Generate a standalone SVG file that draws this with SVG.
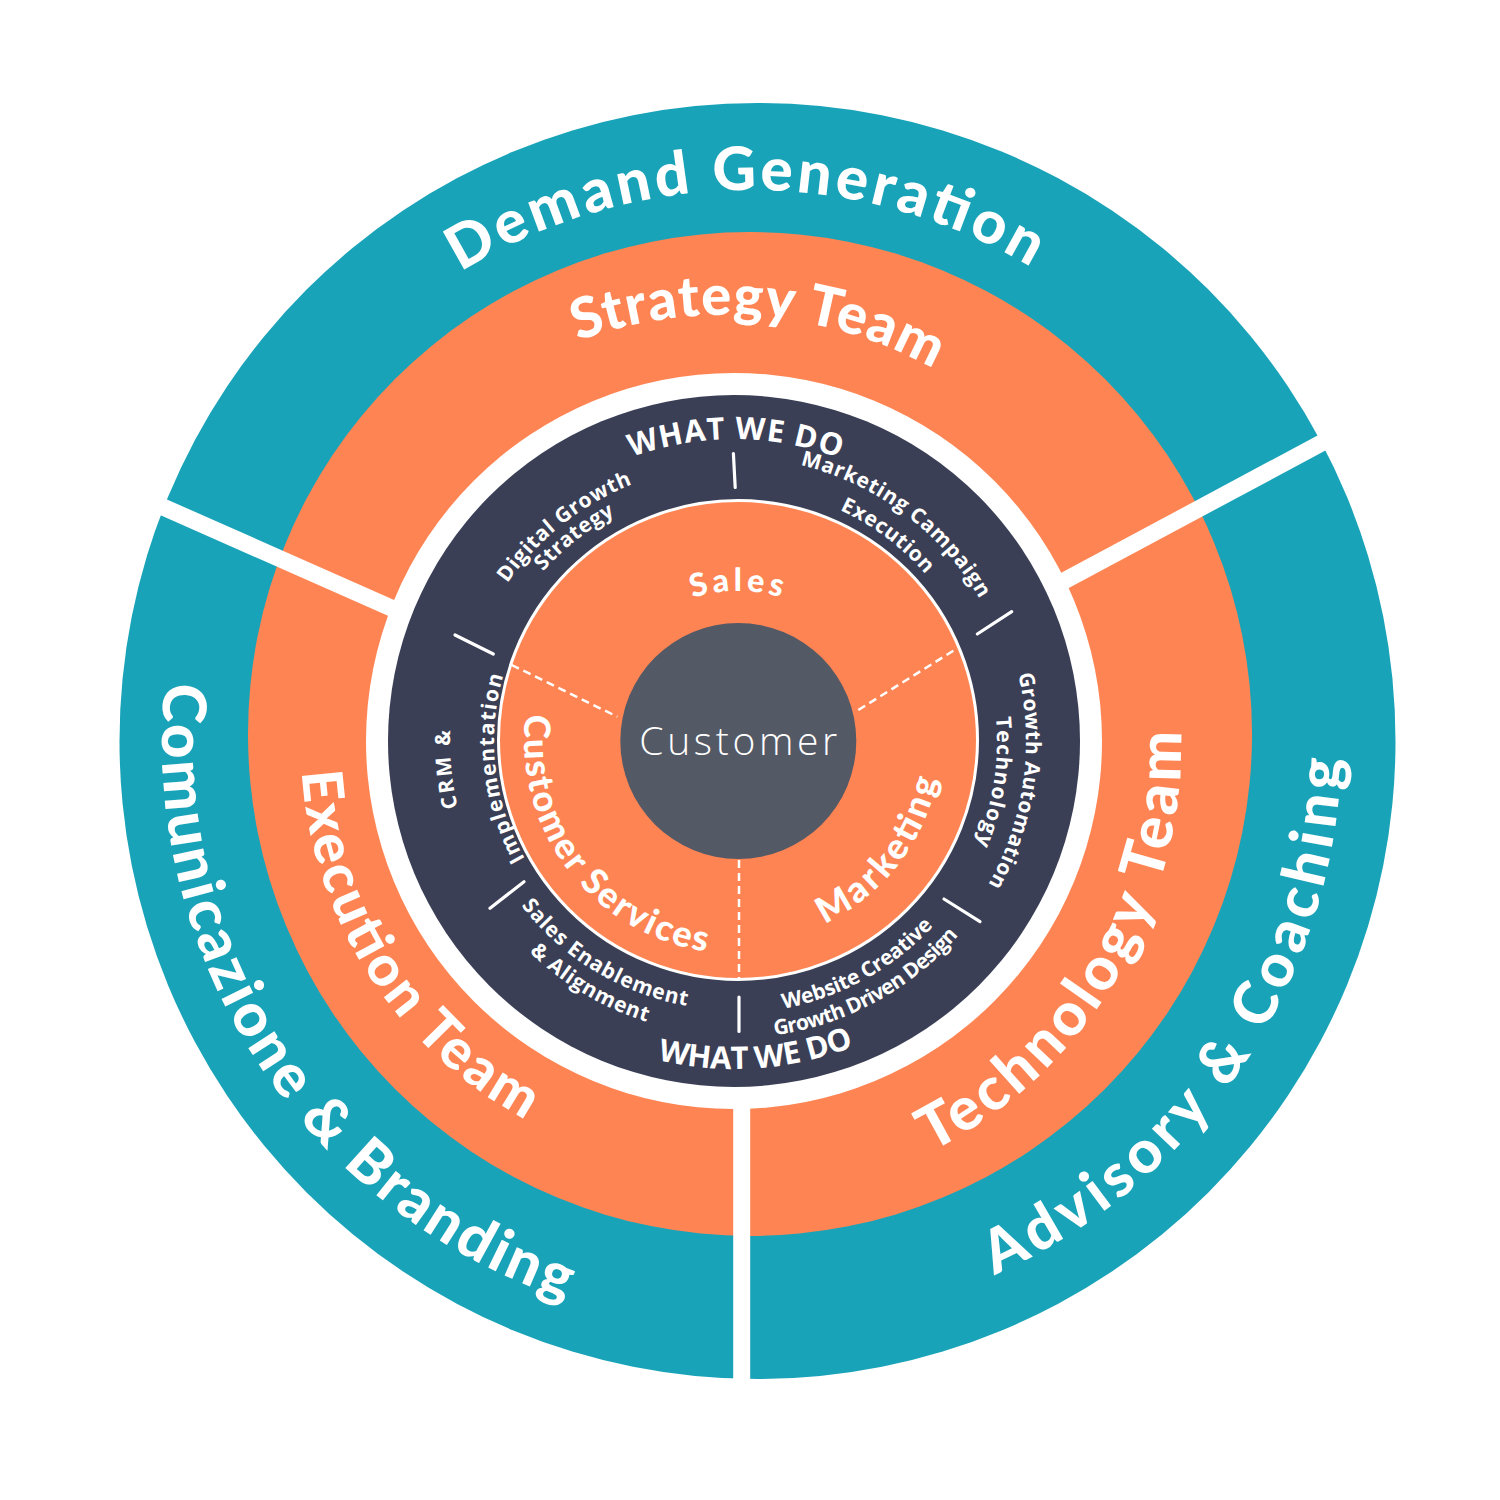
<svg xmlns="http://www.w3.org/2000/svg" width="1500" height="1500" viewBox="0 0 1500 1500">
<style>
.t{fill:#fff;font-family:Lato,"Open Sans","Noto Sans",sans-serif;font-weight:900}
.xl{font-size:60px}
.lg{font-size:56px}
.tech{font-size:60px}
.md{font-size:36px}
.sm{font-size:21px;font-weight:700;font-family:"Open Sans",Lato,sans-serif}
.wwd{font-size:31px;font-weight:700;font-family:"Open Sans",Lato,sans-serif}
.cust{font-size:39px;font-weight:300;font-family:"Open Sans",Lato,sans-serif;fill:#fff}
.gap{stroke:#fff;stroke-width:17;fill:none}
.tick{stroke:#fff;stroke-width:3.2;stroke-linecap:round;fill:none}
.dash{stroke:#fff;stroke-width:2.5;stroke-dasharray:8 5;fill:none}
</style>
<defs>
<path id="pDemand" d="M 208.23 841.41 A 551 551 0 1 1 1293.45 831.94"/>
<path id="pStrategyTeam" d="M 296.98 786.22 A 430 430 0 1 1 1141.30 852.66"/>
<path id="pExecTeam" d="M 560.69 354.13 A 424 424 0 1 0 1013.08 1056.10"/>
<path id="pTechTeam" d="M 427.64 1090.71 A 456 456 0 1 0 886.18 318.44"/>
<path id="pComunic" d="M 520.25 199.75 A 588 588 0 1 0 1151.02 1171.03"/>
<path id="pAdvisory" d="M 352.55 1161.80 A 584 584 0 1 0 994.06 207.08"/>
<path id="pWwdTop" d="M 436.21 791.91 A 302 302 0 1 1 1031.10 795.02"/>
<path id="pWwdBot" d="M 407.80 706.71 A 328 328 0 1 0 1052.26 661.65"/>
<path id="pDigital" d="M 550.76 947.40 A 276 276 0 1 1 976.80 609.92"/>
<path id="pStrategy" d="M 564.70 929.80 A 254 254 0 1 1 957.85 621.11"/>
<path id="pMktCamp" d="M 480.29 613.21 A 284 284 0 1 1 928.77 947.69"/>
<path id="pExec" d="M 507.29 626.48 A 254 254 0 1 1 907.88 926.16"/>
<path id="pCrm" d="M 810.85 1014.40 A 284 284 0 1 1 755.29 457.80"/>
<path id="pImpl" d="M 803.37 970.76 A 240 240 0 1 1 747.40 501.37"/>
<path id="pSalesEn" d="M 531.60 563.81 A 269 269 0 1 0 984.79 838.28"/>
<path id="pAlign" d="M 511.11 549.28 A 294 294 0 1 0 1009.02 844.92"/>
<path id="pGrowthAut" d="M 724.32 449.16 A 292 292 0 1 1 643.28 1018.55"/>
<path id="pTech" d="M 728.95 478.05 A 263 263 0 1 1 648.81 989.82"/>
<path id="pWebsite" d="M 476.51 828.66 A 272 272 0 1 0 945.98 570.56"/>
<path id="pGdd" d="M 452.35 835.24 A 297 297 0 1 0 966.44 556.11"/>
<path id="pSales" d="M 591.50 767.15 A 149 149 0 1 1 884.96 764.59"/>
<path id="pCustServ" d="M 640.02 549.75 A 214 214 0 1 0 895.14 885.26"/>
<path id="pMarketing" d="M 587.14 875.83 A 203 203 0 1 0 833.30 560.76"/>
</defs>

<g id="outer-ring">
<circle cx="757.5" cy="741" r="638" fill="#19A3B8"/>
</g>
<g id="team-ring">
<circle cx="750" cy="734" r="502" fill="#FE8553"/>
</g>
<g id="separators">
<line class="gap" x1="90" y1="474.7" x2="600" y2="700.4"/>
<line class="gap" x1="1430" y1="384.8" x2="900" y2="668.9"/>
<line class="gap" x1="741.7" y1="900" x2="741.7" y2="1440"/>
</g>
<circle cx="734" cy="741" r="368" fill="#fff"/>
<g id="what-we-do-ring">
<circle cx="734" cy="741" r="346" fill="#3A3F56"/>
</g>
<g id="functions-disk">
<circle cx="738" cy="740" r="239.5" fill="#FE8553" stroke="#fff" stroke-width="3"/>
</g>
<g id="connectors">
<line class="dash" x1="511.7" y1="665" x2="617.3" y2="716.7"/>
<line class="dash" x1="858.3" y1="710" x2="957.3" y2="648.3"/>
<line class="dash" x1="739" y1="860" x2="739" y2="980"/>
<line class="tick" x1="733.4" y1="453.5" x2="735.2" y2="487.5"/>
<line class="tick" x1="977.3" y1="634" x2="1011.7" y2="611.7"/>
<line class="tick" x1="944" y1="899" x2="980" y2="921.7"/>
<line class="tick" x1="739" y1="997" x2="739" y2="1031.5"/>
<line class="tick" x1="490" y1="908.3" x2="524" y2="881.7"/>
<line class="tick" x1="455" y1="635" x2="493.3" y2="654"/>
</g>
<g id="customer">
<circle cx="738.3" cy="741" r="118" fill="#545966"/>
<text class="cust" x="738.3" y="755" text-anchor="middle" textLength="198">Customer</text>
</g>

<g id="label-demand-generation"><text class="t xl"><textPath href="#pDemand" startOffset="50%" text-anchor="middle" textLength="600">Demand Generation</textPath></text></g>
<g id="label-comunicazione"><text class="t xl"><textPath href="#pComunic" startOffset="50%" text-anchor="middle" textLength="795">Comunicazione &amp; Branding</textPath></text></g>
<g id="label-advisory"><text class="t xl"><textPath href="#pAdvisory" startOffset="50%" text-anchor="middle" textLength="656">Advisory &amp; Coaching</textPath></text></g>
<g id="label-strategy-team"><text class="t lg"><textPath href="#pStrategyTeam" startOffset="50%" text-anchor="middle" textLength="368">Strategy Team</textPath></text></g>
<g id="label-execution-team"><text class="t lg"><textPath href="#pExecTeam" startOffset="50%" text-anchor="middle" textLength="432">Execution Team</textPath></text></g>
<g id="label-technology-team"><text class="t tech"><textPath href="#pTechTeam" startOffset="50%" text-anchor="middle" textLength="516">Technology Team</textPath></text></g>

<g id="label-what-we-do-top"><text class="t wwd"><textPath href="#pWwdTop" startOffset="50%" text-anchor="middle" textLength="212">WHAT WE DO</textPath></text></g>
<g id="label-what-we-do-bottom"><text class="t wwd"><textPath href="#pWwdBot" startOffset="50%" text-anchor="middle" textLength="200">WHAT WE DO</textPath></text></g>
<g id="svc-digital-growth">
<text class="t sm"><textPath href="#pDigital" startOffset="50%" text-anchor="middle" textLength="162">Digital Growth</textPath></text>
<text class="t sm"><textPath href="#pStrategy" startOffset="50%" text-anchor="middle" textLength="92">Strategy</textPath></text>
</g>
<g id="svc-marketing-campaign">
<text class="t sm"><textPath href="#pMktCamp" startOffset="50%" text-anchor="middle" textLength="230">Marketing Campaign</textPath></text>
<text class="t sm"><textPath href="#pExec" startOffset="50%" text-anchor="middle" textLength="108">Execution</textPath></text>
</g>
<g id="svc-crm">
<text class="t sm"><textPath href="#pCrm" startOffset="50%" text-anchor="middle" textLength="78">CRM &amp;</textPath></text>
<text class="t sm"><textPath href="#pImpl" startOffset="50%" text-anchor="middle" textLength="190">Implementation</textPath></text>
</g>
<g id="svc-sales-enablement">
<text class="t sm"><textPath href="#pSalesEn" startOffset="50%" text-anchor="middle" textLength="198">Sales Enablement</textPath></text>
<text class="t sm"><textPath href="#pAlign" startOffset="50%" text-anchor="middle" textLength="138">&amp; Alignment</textPath></text>
</g>
<g id="svc-growth-automation">
<text class="t sm"><textPath href="#pGrowthAut" startOffset="50%" text-anchor="middle" textLength="218">Growth Automation</textPath></text>
<text class="t sm"><textPath href="#pTech" startOffset="50%" text-anchor="middle" textLength="130">Technology</textPath></text>
</g>
<g id="svc-website">
<text class="t sm"><textPath href="#pWebsite" startOffset="50%" text-anchor="middle" textLength="174">Website Creative</textPath></text>
<text class="t sm"><textPath href="#pGdd" startOffset="50%" text-anchor="middle" textLength="214">Growth Driven Design</textPath></text>
</g>

<g id="fn-sales"><text class="t" font-size="32"><textPath href="#pSales" startOffset="50%" text-anchor="middle" textLength="90">Sales</textPath></text></g>
<g id="fn-customer-services"><text class="t md"><textPath href="#pCustServ" startOffset="50%" text-anchor="middle" textLength="330">Customer Services</textPath></text></g>
<g id="fn-marketing"><text class="t md"><textPath href="#pMarketing" startOffset="50%" text-anchor="middle" textLength="190">Marketing</textPath></text></g>
</svg>
